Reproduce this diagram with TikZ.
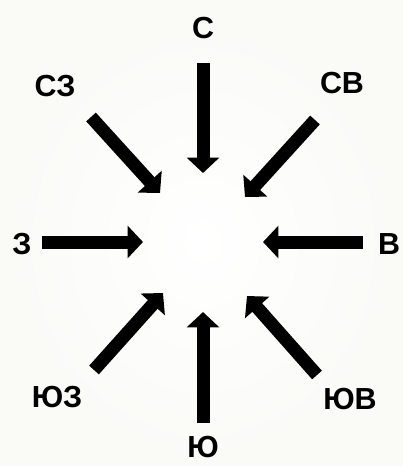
\documentclass[tikz,border=0pt]{standalone}
\usepackage{fontspec}
\setmainfont{Liberation Sans}
\usetikzlibrary{arrows.meta}
\definecolor{paper}{HTML}{FAFAF7}
\definecolor{ink}{HTML}{000000}

\begin{document}
\begin{tikzpicture}[
  x=0.03cm, y=-0.03cm,
  font=\fontsize{26}{26}\selectfont\bfseries,
  dir/.style = {text=ink, inner sep=0pt},
  ptr/.style = {-{Triangle[length=0.46cm, width=0.95cm]}, draw=ink, line width=0.39cm},
]

% --- paper, brighter in the middle ---------------------------------------------------------------
\fill[paper] (0,0) rectangle (403,466);
\shade[inner color=white, outer color=paper] (203,242) ellipse (190 and 215);
\useasboundingbox (0,0) rectangle (403,466);

% --- the eight directions ------------------------------------------------------------------------
\node[dir] (n)  at (203,28)  {С};
\node[dir] (ne) at (342,83)  {СВ};
\node[dir] (e)  at (389,244) {В};
\node[dir] (se) at (350,399) {ЮВ};
\node[dir] (s)  at (203,447) {Ю};
\node[dir] (sw) at (57,397)  {ЮЗ};
\node[dir] (w)  at (22,244)  {З};
\node[dir] (nw) at (55,86)   {СЗ};

% --- where each arrow starts and ends ------------------------------------------------------------
\coordinate (nA)  at (203,63);  \coordinate (nB)  at (203,173);
\coordinate (sA)  at (203,423); \coordinate (sB)  at (203,312);
\coordinate (wA)  at (42,242);  \coordinate (wB)  at (143,242);
\coordinate (eA)  at (363,242); \coordinate (eB)  at (263,242);
\coordinate (nwA) at (91,117);  \coordinate (nwB) at (160,193);
\coordinate (neA) at (315,120); \coordinate (neB) at (245,197);
\coordinate (swA) at (94,370);  \coordinate (swB) at (163,293);
\coordinate (seA) at (317,375); \coordinate (seB) at (247,296);

% --- all pointing inwards ------------------------------------------------------------------------
\foreach \d in {n,s,w,e,nw,ne,sw,se}
  \draw[ptr] (\d A) -- (\d B);

\end{tikzpicture}
\end{document}
